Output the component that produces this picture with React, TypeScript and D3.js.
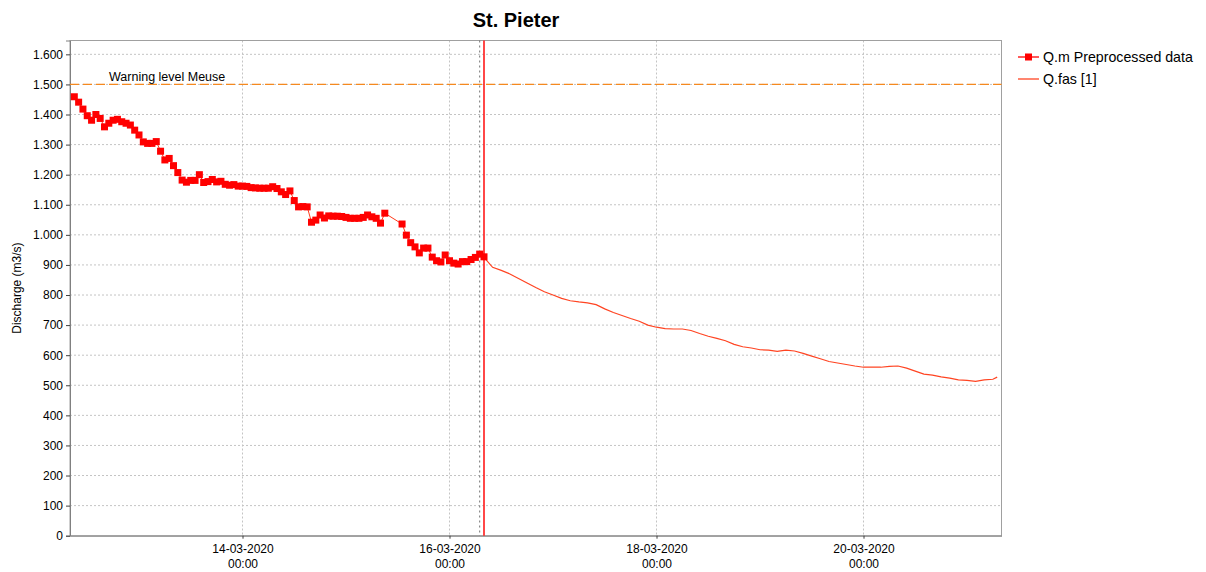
import React, { useEffect, useRef } from "react";
import * as d3 from "d3";

// data (hours counted from 12-03-2020 08:00)
const seriesNames = ["Q.m Preprocessed data", "Q.fas [1]"];
const warningLevel = 1500;
const warningLabel = "Warning level Meuse";
const forecastT0Hour = 96;

// hourly measured discharge, hour 1..96 (null = missing)
const measuredValues: (number | null)[] = [
  1459, 1441, 1418, 1396, 1381, 1400, 1387, 1359, 1371, 1381,
  1384, 1376, 1371, 1365, 1348, 1332, 1309, 1304, 1304, 1310,
  1278, 1249, 1254, 1230, 1207, 1182, 1175, 1181, 1181, 1200,
  1174, 1177, 1184, 1176, 1178, 1168, 1165, 1167, 1162, 1162,
  1161, 1157, 1156, 1155, 1155, 1155, 1160, 1154, 1143, 1134,
  1146, 1114, 1093, 1094, 1093, 1042, 1049, 1066, 1056, 1063,
  1062, 1062, 1061, 1058, 1055, 1055, 1055, 1058, 1066, 1060,
  1055, 1039, 1072,
  null, null, null,
  1036, 999, 974, 960, 940, 956, 956, 926, 914, 910,
  933, 914, 906, 903, 911, 911, 918, 925, 936, 927,
];

const forecastHours = [
  96, 98, 100, 102, 104, 106, 108, 110, 112, 114, 116, 118, 120, 122, 124,
  126, 128, 130, 132, 134, 136, 138, 140, 142, 144, 146, 148, 150, 152, 154,
  156, 158, 160, 162, 164, 166, 168, 170, 172, 174, 176, 178, 180, 182, 184,
  186, 188, 190, 192, 194, 196, 198, 200, 202, 204, 206, 208, 210, 212, 214, 215,
];
const forecastValues = [
  925, 892, 882, 870, 855, 840, 825, 811, 800, 789, 781, 777, 774, 768, 754,
  742, 732, 722, 713, 700, 693, 688, 687, 687, 682, 672, 663, 656, 648, 636,
  628, 624, 618, 617, 613, 617, 614, 606, 597, 588, 579, 574, 569, 564, 560,
  560, 560, 563, 564, 557, 547, 537, 534, 528, 524, 518, 516, 513, 518, 520, 527,
];

const yTicks = d3.range(0, 1700, 100);
const xTickDates = ["14-03-2020", "16-03-2020", "18-03-2020", "20-03-2020"];

const App = () => {
  const ref = useRef<SVGSVGElement>(null);

  useEffect(() => {
    document.body.style.margin = "0";
    makeGraph();
  }, []);

  const makeGraph = () => {
    // setting canvas
    const width = 1206;
    const height = 572;
    const margin = { top: 40.5, left: 70, bottom: 36.3, right: 204.5 };
    const font = "'Liberation Sans', Arial, sans-serif";

    const svg = d3.select(ref.current).attr("width", width).attr("height", height);
    svg.selectAll("*").remove();

    const start = Date.UTC(2020, 2, 12, 8);
    const hour = 3600 * 1000;
    const toDate = (h: number) => new Date(start + h * hour);
    const parse = d3.utcParse("%d-%m-%Y");

    // scales
    const x = d3
      .scaleUtc()
      .domain([toDate(0), toDate(216)])
      .range([margin.left, width - margin.right]);

    const y = d3
      .scaleLinear()
      .domain([0, 1646])
      .range([height - margin.bottom, margin.top]);

    const nl = d3.formatLocale({ decimal: ",", thousands: ".", grouping: [3], currency: ["", ""] });
    const fmt = nl.format(",d");

    // title
    svg
      .append("text")
      .attr("x", 516)
      .attr("y", 27)
      .attr("text-anchor", "middle")
      .attr("font-family", font)
      .attr("font-weight", "bold")
      .attr("font-size", 20)
      .text("St. Pieter");

    // grid
    const grid = svg.append("g");
    grid
      .selectAll("line.h")
      .data(yTicks.slice(1))
      .enter()
      .append("line")
      .attr("x1", margin.left)
      .attr("x2", width - margin.right)
      .attr("y1", (d) => y(d))
      .attr("y2", (d) => y(d))
      .attr("stroke", "#c4c4c4")
      .attr("stroke-dasharray", "2,2");
    grid
      .selectAll("line.v")
      .data(xTickDates)
      .enter()
      .append("line")
      .attr("x1", (d) => x(parse(d)!))
      .attr("x2", (d) => x(parse(d)!))
      .attr("y1", margin.top)
      .attr("y2", height - margin.bottom)
      .attr("stroke", "#c4c4c4")
      .attr("stroke-dasharray", "2,2");

    // plot border
    svg
      .append("rect")
      .attr("x", margin.left)
      .attr("y", margin.top)
      .attr("width", width - margin.left - margin.right)
      .attr("height", height - margin.top - margin.bottom)
      .attr("fill", "none")
      .attr("stroke", "#a0a0a0");

    // axes
    const yAxis = (g: any) =>
      g
        .attr("transform", `translate(${margin.left}, 0)`)
        .call(d3.axisLeft(y).tickValues(yTicks).tickSize(4).tickPadding(3).tickFormat((d: any) => fmt(d)))
        .call((g: any) => g.select(".domain").attr("stroke", "#808080"))
        .call((g: any) => g.selectAll(".tick line").attr("stroke", "#404040"))
        .call((g: any) => g.selectAll("text").attr("fill", "#000"));

    const xAxis = (g: any) =>
      g
        .attr("transform", `translate(0, ${height - margin.bottom})`)
        .call(
          d3
            .axisBottom(x)
            .tickValues(xTickDates.map((d) => parse(d)!))
            .tickSize(3)
            .tickFormat(() => "")
            .tickSizeOuter(0)
        )
        .call((g: any) => g.select(".domain").attr("stroke", "#808080"))
        .call((g: any) => g.selectAll(".tick line").attr("stroke", "#404040"));

    svg.append("g").call(yAxis).attr("font-family", font).attr("font-size", 12);
    const xa = svg.append("g").call(xAxis);

    xa.selectAll(".tick")
      .data(xTickDates)
      .append("text")
      .attr("font-family", font)
      .attr("font-size", 12)
      .attr("fill", "#000")
      .attr("text-anchor", "middle")
      .selectAll("tspan")
      .data((d) => [d, "00:00"])
      .enter()
      .append("tspan")
      .attr("x", 0)
      .attr("y", (d, i) => 17 + i * 15)
      .text((d) => d);

    // y label
    svg
      .append("text")
      .attr("transform", `translate(21, ${(margin.top + height - margin.bottom) / 2}) rotate(-90)`)
      .attr("text-anchor", "middle")
      .attr("font-family", font)
      .attr("font-size", 12)
      .text("Discharge (m3/s)");

    // warning level
    svg
      .append("line")
      .attr("x1", margin.left)
      .attr("x2", width - margin.right)
      .attr("y1", y(warningLevel))
      .attr("y2", y(warningLevel))
      .attr("stroke", "#f5891f")
      .attr("stroke-width", 1.3)
      .attr("stroke-dasharray", "9,4");
    svg
      .append("text")
      .attr("x", 109)
      .attr("y", y(warningLevel) - 3)
      .attr("font-family", font)
      .attr("font-size", 12.5)
      .text(warningLabel);

    // forecast time lines
    svg
      .append("line")
      .attr("x1", x(toDate(forecastT0Hour - 1)))
      .attr("x2", x(toDate(forecastT0Hour - 1)))
      .attr("y1", margin.top)
      .attr("y2", height - margin.bottom)
      .attr("stroke", "#707070")
      .attr("stroke-dasharray", "2,3");
    svg
      .append("line")
      .attr("x1", x(toDate(forecastT0Hour)))
      .attr("x2", x(toDate(forecastT0Hour)))
      .attr("y1", margin.top)
      .attr("y2", height - margin.bottom)
      .attr("stroke", "#ff1a1a")
      .attr("stroke-width", 1.6);

    // forecast line
    const forecast = forecastHours.map((h, i) => ({ h, v: forecastValues[i] }));
    const line = d3
      .line<{ h: number; v: number }>()
      .x((d) => x(toDate(d.h)))
      .y((d) => y(d.v));

    svg
      .append("path")
      .datum(forecast)
      .attr("fill", "none")
      .attr("stroke", "#ff4422")
      .attr("stroke-width", 1.2)
      .attr("d", line);

    // measured
    const measured = measuredValues
      .map((v, i) => ({ h: i + 1, v }))
      .filter((d) => d.v !== null) as { h: number; v: number }[];

    svg
      .append("path")
      .datum(measured)
      .attr("fill", "none")
      .attr("stroke", "#ff3a1a")
      .attr("stroke-width", 1)
      .attr("d", line);

    svg
      .append("g")
      .selectAll("rect")
      .data(measured)
      .enter()
      .append("rect")
      .attr("x", (d) => x(toDate(d.h)) - 3.5)
      .attr("y", (d) => y(d.v) - 3.5)
      .attr("width", 7)
      .attr("height", 7)
      .attr("fill", "#ff0000");

    // legend
    const legend = svg
      .append("g")
      .selectAll("g")
      .data(seriesNames)
      .enter()
      .append("g")
      .attr("transform", (d, i) => `translate(1018, ${57 + i * 22})`);

    legend
      .append("line")
      .attr("x1", 0)
      .attr("x2", 21)
      .attr("stroke", (d, i) => (i === 0 ? "#ff0000" : "#ff4422"))
      .attr("stroke-width", 1.3);

    legend
      .filter((d, i) => i === 0)
      .append("rect")
      .attr("x", 7)
      .attr("y", -3.5)
      .attr("width", 7)
      .attr("height", 7)
      .attr("fill", "#ff0000");

    legend
      .append("text")
      .attr("x", 25)
      .attr("y", 5)
      .attr("font-family", font)
      .attr("font-size", 14.2)
      .text((d) => d);
  };

  return <svg ref={ref} style={{ display: "block" }}></svg>;
};

export default App;
